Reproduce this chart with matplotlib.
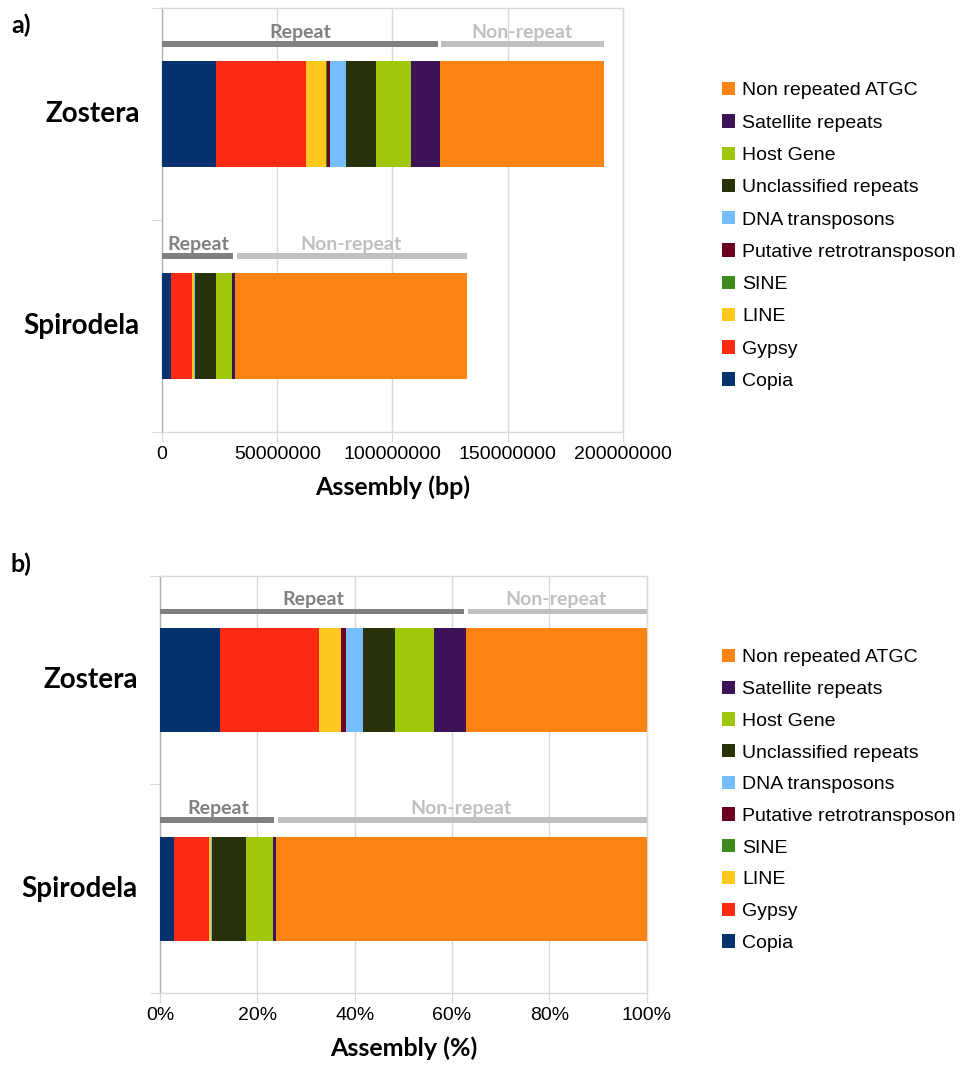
import numpy as np
import matplotlib.pyplot as plt
from matplotlib.ticker import FuncFormatter

plt.rcParams['font.family'] = 'Liberation Sans'

# repeat composition of the two genome assemblies (Mb)
species = ['Zostera', 'Spirodela']
classes = ['Copia', 'Gypsy', 'LINE', 'SINE', 'Putative retrotransposon',
           'DNA transposons', 'Unclassified repeats', 'Host Gene',
           'Satellite repeats', 'Non repeated ATGC']
zostera_mb = [23.6, 39.0, 8.7, 0.1, 1.7, 6.9, 12.7, 15.3, 12.4, 71.3]
spirodela_mb = [3.8, 9.4, 0.6, 0.05, 0.1, 0.2, 9.3, 7.1, 1.0, 100.6]
colors = ['#07316f', '#fc2a12', '#fec81e', '#3e8b1c', '#6b0020',
          '#75bdfd', '#283208', '#a0c80a', '#3c1259', '#fd8413']

bp = np.array([zostera_mb, spirodela_mb]) * 1e6
pct = bp / bp.sum(axis=1, keepdims=True) * 100

grid_c = '#d9d9d9'
cat_font = 'Lato'

fig = plt.figure(figsize=(9.69, 10.72), dpi=100)


def draw_panel(ax, data, xmax, step, fmt, xlabel):
    y = np.arange(len(species))
    left = np.zeros(len(species))
    handles = []
    for j, name in enumerate(classes):
        h = ax.barh(y, data[:, j], left=left, height=0.5, color=colors[j],
                    linewidth=0, label=name, zorder=3)
        handles.append(h)
        left += data[:, j]

    # Repeat / Non-repeat brackets above each bar
    rep = data[:, :-1].sum(axis=1)
    tot = data.sum(axis=1)
    gap = 0.004 * xmax
    for i in range(len(species)):
        yb = y[i] - 0.33
        ax.barh(yb, rep[i] - gap, left=0, height=0.028, color='#808080',
                linewidth=0, zorder=3)
        ax.barh(yb, tot[i] - rep[i] - gap, left=rep[i] + gap, height=0.028,
                color='#c0c0c0', linewidth=0, zorder=3)
        ax.text(rep[i] / 2, y[i] - 0.385, 'Repeat', ha='center', va='center',
                fontsize=14, fontweight='bold', color='#808080',
                family=cat_font, zorder=4)
        ax.text((rep[i] + tot[i]) / 2, y[i] - 0.385, 'Non-repeat',
                ha='center', va='center', fontsize=14, fontweight='bold',
                color='#c0c0c0', family=cat_font, zorder=4)
        ax.annotate(species[i], xy=(0, y[i]),
                    xycoords=('axes fraction', 'data'),
                    xytext=(-16, 0), textcoords='offset points',
                    ha='right', va='center', fontsize=20, fontweight='bold',
                    family=cat_font)

    ax.set_xlim(0, xmax)
    ax.set_ylim(len(species) - 0.5, -0.5)
    ax.set_xticks(np.arange(0, xmax + step / 2, step))
    ax.xaxis.set_major_formatter(FuncFormatter(fmt))
    ax.set_yticks(np.arange(-0.5, len(species)))
    ax.set_yticklabels([])
    ax.tick_params(axis='x', length=7, color=grid_c, labelsize=14, pad=3,
                   labelfontfamily='Liberation Sans')
    ax.tick_params(axis='y', length=7, color=grid_c)
    ax.grid(axis='x', color=grid_c, linewidth=1, zorder=0)
    for s in ax.spines.values():
        s.set_color(grid_c)
        s.set_linewidth(1)
    ax.spines['left'].set_color('#b0b0b0')
    ax.set_xlabel(xlabel, fontsize=18, fontweight='bold', family=cat_font,
                  labelpad=9)
    return handles


legend_kw = dict(loc='upper left', frameon=False,
                 prop={'family': 'Liberation Sans', 'size': 14},
                 handlelength=0.68, handleheight=0.68, handletextpad=0.35,
                 borderpad=0, borderaxespad=0)

ax1 = fig.add_axes([0.1672, 0.597, 0.4757, 0.3955])
h1 = draw_panel(ax1, bp, 2e8, 5e7, lambda v, p: f'{v:.0f}', 'Assembly (bp)')
fig.text(11 / 969, 1 - 14 / 1072, 'a)', fontsize=18, fontweight='bold',
         family=cat_font, va='top')
fig.legend(h1[::-1], classes[::-1], bbox_to_anchor=(722 / 969, 1 - 82 / 1072),
           labelspacing=0.76, **legend_kw)

ax2 = fig.add_axes([0.1651, 0.0737, 0.5023, 0.389])
h2 = draw_panel(ax2, pct, 100, 20, lambda v, p: f'{v:.0f}%', 'Assembly (%)')
fig.text(11 / 969, 1 - 553 / 1072, 'b)', fontsize=18, fontweight='bold',
         family=cat_font, va='top')
fig.legend(h2[::-1], classes[::-1], bbox_to_anchor=(722 / 969, 1 - 649 / 1072),
           labelspacing=0.73, **legend_kw)

fig.savefig('out.png', dpi=100)
